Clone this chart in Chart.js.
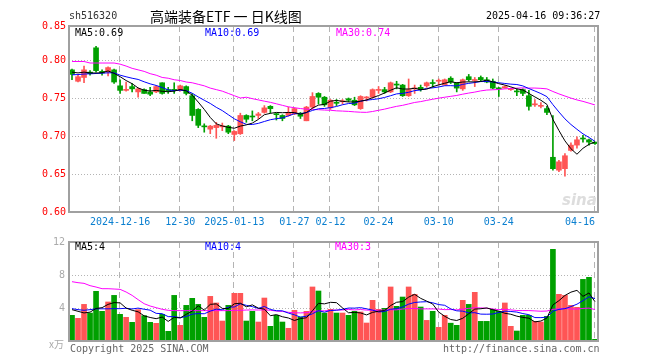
<!DOCTYPE html>
<html><head><meta charset="utf-8">
<script src="https://cdn.jsdelivr.net/npm/chart.js@4.4.0/dist/chart.umd.min.js"></script>
<style>
html,body{margin:0;padding:0;background:#fff;}
#wrap{position:relative;width:660px;height:360px;overflow:hidden;font-family:'DejaVu Sans Mono',monospace;font-size:10px;}
.t{position:absolute;white-space:pre;line-height:12px;}
canvas{position:absolute;left:0;}
</style></head><body>
<div id="wrap">
<canvas id="main" width="660" height="232" style="top:0;width:660px;height:232px"></canvas>
<canvas id="vol" width="660" height="128" style="top:232px;width:660px;height:128px"></canvas>
<div class="t" style="left:69px;top:10px;color:#333">sh516320</div>
<div class="t" style="left:150px;top:7px;font-family:'Noto Sans CJK SC';font-size:14px;line-height:18px;color:#000">高端装备ETF 一 日K线图</div>
<div class="t" style="left:486px;top:10px;color:#000">2025-04-16 09:36:27</div>
<div class="t" style="left:75px;top:27px;color:#000">MA5:0.69</div>
<div class="t" style="left:205px;top:27px;color:#0000ff">MA10:0.69</div>
<div class="t" style="left:336px;top:27px;color:#ff00ff">MA30:0.74</div>
<div class="t" style="left:75px;top:241px;color:#000">MA5:4</div>
<div class="t" style="left:205px;top:241px;color:#0000ff">MA10:4</div>
<div class="t" style="left:335px;top:241px;color:#ff00ff">MA30:3</div>
<div class="t" style="left:49px;top:338px;color:#aaa;font-family:'Noto Sans CJK SC';font-size:10px">x万</div>
<div class="t" style="left:70px;top:343px;color:#666">Copyright 2025 SINA.COM</div>
<div class="t" style="left:443px;top:343px;color:#666">http://finance.sina.com.cn</div>
<div class="t" style="left:562px;top:192px;color:#ddd;font-family:'DejaVu Sans';font-style:italic;font-weight:bold;font-size:15px;line-height:16px">sina</div>
</div>
<script>
const dates = [
'2024-12-04','2024-12-05','2024-12-06','2024-12-09','2024-12-10','2024-12-11','2024-12-12','2024-12-13','2024-12-16','2024-12-17',
'2024-12-18','2024-12-19','2024-12-20','2024-12-23','2024-12-24','2024-12-25','2024-12-26','2024-12-27','2024-12-30','2024-12-31',
'2025-01-02','2025-01-03','2025-01-06','2025-01-07','2025-01-08','2025-01-09','2025-01-10','2025-01-13','2025-01-14','2025-01-15',
'2025-01-16','2025-01-17','2025-01-20','2025-01-21','2025-01-22','2025-01-23','2025-01-24','2025-01-27','2025-02-05','2025-02-06',
'2025-02-07','2025-02-10','2025-02-11','2025-02-12','2025-02-13','2025-02-14','2025-02-17','2025-02-18','2025-02-19','2025-02-20',
'2025-02-21','2025-02-24','2025-02-25','2025-02-26','2025-02-27','2025-02-28','2025-03-03','2025-03-04','2025-03-05','2025-03-06',
'2025-03-07','2025-03-10','2025-03-11','2025-03-12','2025-03-13','2025-03-14','2025-03-17','2025-03-18','2025-03-19','2025-03-20',
'2025-03-21','2025-03-24','2025-03-25','2025-03-26','2025-03-27','2025-03-28','2025-03-31','2025-04-01','2025-04-02','2025-04-03',
'2025-04-07','2025-04-08','2025-04-09','2025-04-10','2025-04-11','2025-04-14','2025-04-15','2025-04-16'];

const openP = [
0.787,0.772,0.777,0.784,0.816,0.785,0.784,0.787,0.766,0.760,
0.765,0.758,0.761,0.758,0.758,0.770,0.761,0.761,0.760,0.765,
0.753,0.735,0.713,0.709,0.711,0.712,0.713,0.702,0.703,0.727,
0.726,0.727,0.731,0.739,0.729,0.727,0.727,0.729,0.730,0.720,
0.738,0.756,0.751,0.737,0.744,0.745,0.749,0.747,0.736,0.750,
0.751,0.760,0.761,0.758,0.768,0.767,0.753,0.762,0.764,0.766,
0.770,0.772,0.767,0.776,0.770,0.762,0.778,0.773,0.777,0.774,
0.772,0.763,0.763,0.761,0.759,0.761,0.753,0.741,0.739,0.736,
0.672,0.655,0.657,0.681,0.688,0.697,0.695,0.692];
const closeP = [
0.781,0.778,0.787,0.782,0.786,0.783,0.790,0.771,0.760,0.761,
0.762,0.762,0.756,0.755,0.765,0.756,0.759,0.760,0.766,0.756,
0.727,0.714,0.712,0.713,0.714,0.713,0.705,0.706,0.727,0.722,
0.725,0.729,0.737,0.736,0.728,0.723,0.731,0.736,0.726,0.738,
0.752,0.751,0.741,0.747,0.743,0.746,0.747,0.741,0.752,0.751,
0.761,0.761,0.758,0.770,0.767,0.753,0.761,0.763,0.761,0.770,
0.769,0.773,0.774,0.771,0.763,0.774,0.774,0.774,0.774,0.771,
0.763,0.762,0.765,0.762,0.758,0.756,0.739,0.742,0.740,0.731,
0.657,0.666,0.674,0.688,0.695,0.696,0.692,0.690];
const highP = [
0.788,0.780,0.792,0.786,0.818,0.787,0.791,0.788,0.774,0.771,
0.769,0.763,0.762,0.764,0.766,0.770,0.764,0.770,0.767,0.766,
0.756,0.736,0.716,0.714,0.718,0.717,0.714,0.707,0.730,0.728,
0.733,0.731,0.740,0.740,0.730,0.728,0.738,0.737,0.731,0.739,
0.757,0.757,0.752,0.748,0.748,0.748,0.750,0.751,0.753,0.752,
0.762,0.765,0.764,0.771,0.772,0.768,0.775,0.767,0.767,0.771,
0.774,0.775,0.775,0.778,0.770,0.775,0.781,0.777,0.779,0.777,
0.775,0.764,0.766,0.763,0.762,0.762,0.760,0.748,0.744,0.739,
0.727,0.668,0.677,0.691,0.699,0.701,0.696,0.692];
const lowP = [
0.774,0.771,0.770,0.780,0.784,0.780,0.779,0.769,0.756,0.759,
0.758,0.751,0.756,0.753,0.757,0.755,0.756,0.756,0.759,0.754,
0.720,0.711,0.705,0.703,0.697,0.707,0.703,0.694,0.702,0.718,
0.720,0.723,0.730,0.730,0.721,0.720,0.726,0.728,0.723,0.720,
0.736,0.742,0.739,0.735,0.740,0.742,0.745,0.740,0.735,0.746,
0.750,0.756,0.756,0.757,0.762,0.752,0.752,0.756,0.759,0.764,
0.764,0.767,0.767,0.769,0.758,0.760,0.772,0.765,0.772,0.770,
0.762,0.752,0.763,0.760,0.753,0.753,0.734,0.739,0.737,0.728,
0.655,0.653,0.647,0.680,0.684,0.692,0.688,0.689];
const volume = [
3.11,2.75,4.44,3.39,6.02,3.60,4.73,5.53,3.23,2.87,
2.26,3.80,3.07,2.26,2.14,3.23,1.17,5.53,1.90,4.32,
5.17,4.44,2.87,5.41,4.61,2.42,4.32,5.78,5.78,2.42,
3.60,2.30,5.21,1.78,3.11,2.30,1.54,3.72,2.91,3.60,
6.55,6.06,3.39,3.84,3.39,3.39,3.11,3.60,3.52,2.18,
4.93,3.84,3.96,6.55,4.20,5.33,6.55,5.66,4.12,2.50,
3.60,1.66,3.11,2.16,1.90,4.93,4.44,5.90,2.38,2.38,
3.84,3.60,4.61,1.78,1.21,3.11,3.11,2.38,2.30,2.99,
11.11,5.66,5.53,4.32,4.08,7.47,7.72,0.20];

// MA values at the left edge (window reaches before the first visible day)
const ma5Head = [0.784,0.783,0.784,0.783];
const ma10Head = [0.7805,0.7808,0.7815,0.7818,0.7822,0.7826,0.7831,0.7831,0.7800];
const ma30Head = [0.798,0.798,0.798,0.796,0.796,0.796,0.796,0.796,0.7945,0.792,0.789,0.787,0.785,0.782,0.780,0.777,0.776,0.774,0.773,0.771,0.770,0.768,0.766,0.763,0.761,0.759,0.756,0.753,0.750];
const vma5Head = [3.8,3.6,3.4,3.5];
const vma10Head = [3.92,3.80,3.72,3.80,3.90,3.90,3.90,3.92,3.92];
const vma30Head = [7.19,7.07,6.99,6.71,6.54,6.34,6.34,6.30,6.26,5.94,5.53,5.01,4.52,4.24,4.04,3.84,3.72,3.68,3.68,3.68,3.68,3.68,3.68,3.68,3.68,3.68,3.68,3.72,3.72];

const tickDates = ['2024-12-16','2024-12-30','2025-01-13','2025-01-27','2025-02-12','2025-02-24','2025-03-10','2025-03-24','2025-04-16'];
const tickTexts = ['2024-12-16','12-30','2025-01-13','01-27','02-12','02-24','03-10','03-24','04-16'];
const priceTicks = [0.60,0.65,0.70,0.75,0.80];
const priceTopLabel = '0.85';
const volTicks = [4,8,12];

const RED = '#ff5555', GREEN = '#00a000';

function movingAvg(vals, n, head){
  return vals.map((v,i)=>{
    if(i < n-1) return head[i];
    let s=0; for(let k=i-n+1;k<=i;k++) s+=vals[k];
    return s/n;
  });
}
const up = closeP.map((c,i)=> c >= openP[i]);
const colors = up.map(u=> u ? RED : GREEN);
const tickIdx = tickDates.map(d=>dates.indexOf(d));

Chart.defaults.font.family = "'DejaVu Sans Mono', monospace";
Chart.defaults.font.size = 10;
Chart.defaults.animation = false;

const gridPlugin = {
  id:'sgrid',
  beforeDatasetsDraw(chart, args, o){
    const {ctx, chartArea:a, scales} = chart;
    const x = scales.x, y = scales.y;
    ctx.save();
    ctx.strokeStyle = '#b4b4b4'; ctx.lineWidth = 1;
    ctx.setLineDash([1,2]);
    o.h.forEach(v=>{
      const py = Math.round(y.getPixelForValue(v))+0.5;
      ctx.beginPath(); ctx.moveTo(a.left,py); ctx.lineTo(a.right,py); ctx.stroke();
    });
    ctx.setLineDash([6,4]);
    tickIdx.forEach(i=>{
      const px = Math.round(x.getPixelForValue(i))-0.5;
      ctx.beginPath(); ctx.moveTo(px,a.top); ctx.lineTo(px,a.bottom); ctx.stroke();
    });
    ctx.restore();
  },
  afterDraw(chart){
    const {ctx, chartArea:a} = chart;
    ctx.save();
    ctx.strokeStyle = '#a0a0a0'; ctx.lineWidth = 2; ctx.setLineDash([]);
    ctx.strokeRect(a.left, a.top, a.right-a.left, a.bottom-a.top);
    ctx.restore();
  }
};

const lineDs = (data,color)=>({type:'line', data, borderColor:color, borderWidth:1, pointRadius:0, tension:0, order:-1, fill:false});

const yWidth = 69, rightPad = 62;

new Chart(document.getElementById('main'), {
  type:'bar',
  data:{
    labels: dates,
    datasets:[
      {data: openP.map((o,i)=>[Math.min(o,closeP[i]),Math.max(o,closeP[i])]), backgroundColor: colors, barThickness:5, grouped:false, minBarLength:1, borderWidth:0},
      {data: lowP.map((l,i)=>[l,highP[i]]), backgroundColor: colors, barThickness:1, grouped:false, borderWidth:0},
      lineDs(movingAvg(closeP,5,ma5Head),'#000000'),
      lineDs(movingAvg(closeP,10,ma10Head),'#0000ff'),
      lineDs(movingAvg(closeP,30,ma30Head),'#ff00ff')
    ]
  },
  options:{
    responsive:false, maintainAspectRatio:false,
    layout:{padding:{left:0,right:rightPad,top:26,bottom:0}},
    plugins:{legend:{display:false}, tooltip:{enabled:false}, sgrid:{h:[0.65,0.70,0.75,0.80]}},
    scales:{
      x:{offset:true, grid:{display:false, drawTicks:false}, border:{display:false},
         afterFit(s){ s.height = 20; },
         ticks:{autoSkip:false, maxRotation:0, minRotation:0, align:'inner', padding:4, color:'#0a7fd0',
           callback(v,i){ const k = tickIdx.indexOf(i); return k>=0 ? tickTexts[k] : ''; }}},
      y:{min:0.60, max:0.8447, grid:{display:false, drawTicks:false}, border:{display:false},
         afterFit(s){ s.width = yWidth; },
         afterBuildTicks(s){ s.ticks = priceTicks.map(v=>({value:v})).concat([{value:0.8447}]); },
         ticks:{color:'#ff0000', padding:3, callback(v){ return v > 0.82 ? priceTopLabel : Number(v).toFixed(2); }}}
    }
  },
  plugins:[gridPlugin]
});

new Chart(document.getElementById('vol'), {
  type:'bar',
  data:{
    labels: dates,
    datasets:[
      {data: volume, backgroundColor: colors, barThickness:5, borderWidth:0},
      lineDs(movingAvg(volume,5,vma5Head),'#000000'),
      lineDs(movingAvg(volume,10,vma10Head),'#0000ff'),
      lineDs(movingAvg(volume,30,vma30Head),'#ff00ff')
    ]
  },
  options:{
    responsive:false, maintainAspectRatio:false,
    layout:{padding:{left:0,right:rightPad,top:8,bottom:19}},
    plugins:{legend:{display:false}, tooltip:{enabled:false}, sgrid:{h:[4,8]}},
    scales:{
      x:{display:false, offset:true},
      y:{min:0, max:12, grid:{display:false, drawTicks:false}, border:{display:false},
         afterFit(s){ s.width = yWidth; },
         afterBuildTicks(s){ s.ticks = volTicks.map(v=>({value:v})); },
         ticks:{color:'#aaaaaa', padding:4, callback(v){ return String(v); }}}
    }
  },
  plugins:[gridPlugin]
});
</script>
</body></html>
